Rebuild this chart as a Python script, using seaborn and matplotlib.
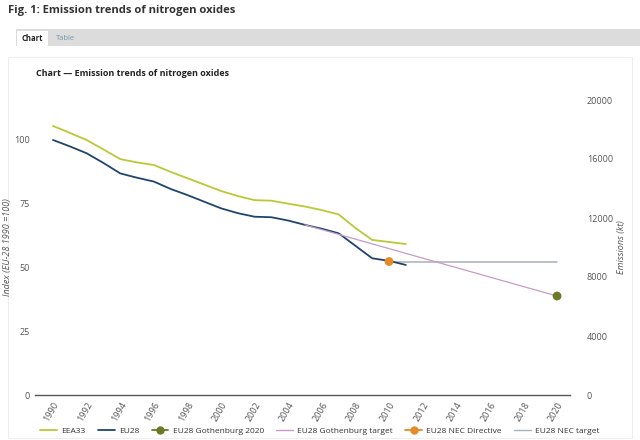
import numpy as np
import pandas as pd
import matplotlib.pyplot as plt
import seaborn as sns
from matplotlib.lines import Line2D
from matplotlib.patches import Rectangle

# data (index, EU-28 1990 = 100)
years = list(range(1990, 2012))
eea33 = [105.5, 102.8, 100.0, 96.3, 92.5, 91.2, 90.2, 87.5, 85.0, 82.5, 80.0,
         78.0, 76.4, 76.2, 75.0, 73.9, 72.5, 70.8, 65.5, 60.8, 60.0, 59.2]
eu28 = [100.0, 97.5, 94.8, 91.0, 86.9, 85.2, 83.7, 80.8, 78.4, 75.8, 73.2,
        71.3, 69.9, 69.7, 68.4, 66.7, 65.2, 63.4, 58.5, 53.6, 52.6, 51.0]
goth_target_years = [2005, 2020]
goth_target = [66.7, 38.8]
nec_target_years = [2010, 2020]
nec_target = [52.3, 52.3]
# point values in kt (right axis)
goth_2020_year = [2020]
goth_2020_kt = [6710]
nec_dir_year = [2010]
nec_dir_kt = [9050]
eu28_1990_kt = 17290

c_eea = "#b8c935"
c_eu = "#1f456e"
c_goth = "#6b7a26"
c_goth_t = "#c79bc8"
c_nec = "#e68a25"
c_nec_t = "#a8b0b8"

sns.set_style("white")
plt.rcParams['font.family'] = ['Open Sans', 'DejaVu Sans']

fig = plt.figure(figsize=(6.4, 4.4), dpi=100)

# page decoration: header, tabs, panel
fig.text(8/640, 1 - 11/440, "Fig. 1: Emission trends of nitrogen oxides", fontsize=8.1,
         fontweight="bold", color="#333333", va="center")
fig.patches.append(Rectangle((16/640, 1 - 46/440), 624/640, 17/440, transform=fig.transFigure,
                             facecolor="#dcdcdc", edgecolor="none", zorder=-5))
fig.patches.append(Rectangle((17/640, 1 - 46/440), 31/640, 15/440, transform=fig.transFigure,
                             facecolor="white", edgecolor="none", zorder=-4))
fig.text(32/640, 1 - 38/440, "Chart", fontsize=5.5, fontweight="bold", color="#222222",
         ha="center", va="center")
fig.text(56/640, 1 - 38/440, "Table", fontsize=5.5, color="#7a96a8", va="center")
fig.patches.append(Rectangle((8/640, 2/440), 624/640, (438 - 57)/440, transform=fig.transFigure,
                             facecolor="white", edgecolor="#eeeeee", linewidth=0.8, zorder=-5))
fig.text(36/640, 1 - 73/440, "Chart \u2014 Emission trends of nitrogen oxides", fontsize=6.5,
         fontweight="bold", color="#222222", va="center")

ax = fig.add_axes([35/640, 45/440, 535/640, 295/440])
ax.set_facecolor("none")
ax2 = ax.twinx()
ax2.set_facecolor("none")

sns.lineplot(x=years, y=eea33, ax=ax, color=c_eea, linewidth=1.3)
sns.lineplot(x=years, y=eu28, ax=ax, color=c_eu, linewidth=1.3)
sns.lineplot(x=goth_target_years, y=goth_target, ax=ax, color=c_goth_t, linewidth=0.9)
sns.lineplot(x=nec_target_years, y=nec_target, ax=ax, color=c_nec_t, linewidth=1.1, zorder=1)
sns.scatterplot(x=goth_2020_year, y=goth_2020_kt, ax=ax2, color=c_goth, s=40,
                edgecolor="none", zorder=5)
sns.scatterplot(x=nec_dir_year, y=nec_dir_kt, ax=ax2, color=c_nec, s=40,
                edgecolor="none", zorder=5)

ax2.set_ylim(0, 20000)
ax.set_ylim(0, 20000 / eu28_1990_kt * 100)
ax.set_xlim(1988.93, 2020.77)

ax.set_xticks(range(1990, 2021, 2))
ax.set_yticks([0, 25, 50, 75, 100])
ax2.set_yticks([0, 4000, 8000, 12000, 16000, 20000])

for a in (ax, ax2):
    for s in a.spines.values():
        s.set_visible(False)
ax.spines["bottom"].set_visible(True)
ax.spines["bottom"].set_color("#555555")
ax.spines["bottom"].set_linewidth(1.0)

ax.tick_params(axis="y", length=0, labelsize=6.5, labelcolor="#555555", pad=4)
ax2.tick_params(axis="y", length=0, labelsize=6.5, labelcolor="#555555", pad=12)
ax.tick_params(axis="x", length=0, labelsize=6.5, labelcolor="#555555", pad=4)
for lab in ax.get_xticklabels():
    lab.set_rotation(60)
    lab.set_ha("right")
    lab.set_rotation_mode("anchor")

ax.set_ylabel("Index (EU-28 1990 =100)", fontsize=6.5, color="#555555", style="italic")
ax.yaxis.set_label_coords(-23/535, 0.5)
ax2.set_ylabel("Emissions (kt)", fontsize=6.5, color="#555555", style="italic")
ax2.yaxis.set_label_coords(1 + 47/535, 0.5)
ax.grid(False)
ax2.grid(False)

handles = [
    Line2D([], [], color=c_eea, lw=1.3),
    Line2D([], [], color=c_eu, lw=1.3),
    Line2D([], [], color=c_goth, lw=1.3, marker="o", markersize=5),
    Line2D([], [], color=c_goth_t, lw=1.0),
    Line2D([], [], color=c_nec, lw=1.3, marker="o", markersize=5),
    Line2D([], [], color=c_nec_t, lw=1.0),
]
labels = ["EEA33", "EU28", "EU28 Gothenburg 2020", "EU28 Gothenburg target",
          "EU28 NEC Directive", "EU28 NEC target"]
fig.legend(handles, labels, loc="center", bbox_to_anchor=(320/640, 1 - 431/440), ncol=6,
           frameon=False, fontsize=6, handlelength=2.0, columnspacing=1.5, handletextpad=0.5,
           labelcolor="#333333")

fig.savefig("out.png", dpi=100)
